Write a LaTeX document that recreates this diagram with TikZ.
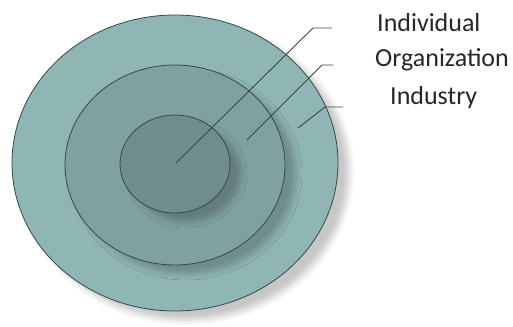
\documentclass[tikz,border=0pt]{standalone}
\usepackage{fontspec}
\setmainfont{Carlito}
\usetikzlibrary{shapes.geometric,shadows.blur}
\definecolor{ringout}{HTML}{8FB5B5}
\definecolor{ringmid}{HTML}{80A1A2}
\definecolor{ringin}{HTML}{6F8D8E}
\definecolor{edge}{HTML}{34494A}

\begin{document}
\begin{tikzpicture}[
  x=1pt, y=1pt,
  every node/.style={font=\fontsize{26}{30}\selectfont, text=black!85},
  ring/.style={draw=edge, line width=0.8pt, ellipse, inner sep=0pt,
               blur shadow={shadow xshift=11pt, shadow yshift=-9pt,
                            shadow blur radius=6pt, shadow opacity=22}},
  lead/.style={draw=edge, line width=0.9pt},
  lbl/.style={anchor=west, inner sep=0pt}
]
\useasboundingbox (0,0) rectangle (513,326);

% rings
\node[ring, fill=ringout, minimum width=326pt, minimum height=296pt] (industry) at (175,163) {};
\node[ring, fill=ringmid, minimum width=220pt, minimum height=200pt] (organization) at (175,161) {};
\node[ring, fill=ringin, minimum width=110pt, minimum height=98pt] (individual) at (175,162) {};

% labels
\node[lbl] (tindividual) at (377,303) {Individual};
\node[lbl] (torganization) at (375,266) {Organization};
\node[lbl] (tindustry) at (390,228) {Industry};

% leader lines
\coordinate (pind) at (176,163);
\coordinate (porg) at (247,186);
\coordinate (pinu) at (298,198);
\coordinate (kind) at (313,298);
\coordinate (korg) at (322,261);
\coordinate (kinu) at (325,219);
\coordinate (eind) at (332,298);
\coordinate (eorg) at (333,261);
\coordinate (einu) at (343,219);
\draw[lead] (pind) -- (kind) -- (eind);
\draw[lead] (porg) -- (korg) -- (eorg);
\draw[lead] (pinu) -- (kinu) -- (einu);
\end{tikzpicture}
\end{document}
